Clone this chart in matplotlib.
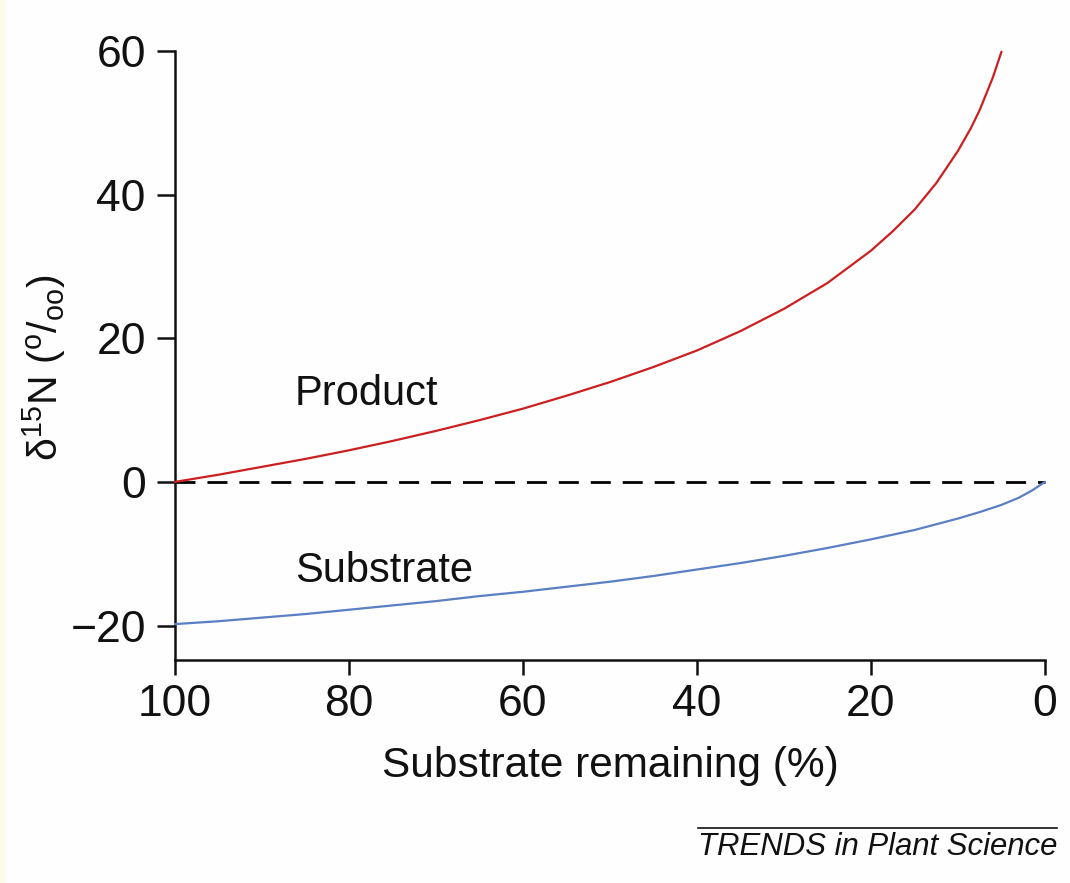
import matplotlib
matplotlib.use("Agg")
import matplotlib.pyplot as plt
from matplotlib.patches import Rectangle
from matplotlib.lines import Line2D

# ---- data ----
remaining_product = [100, 95, 90, 85, 80, 75, 70, 65, 60, 55, 50, 45, 40, 35, 30,
                     25, 20, 17.5, 15, 12.5, 10, 8.5, 7.5, 6, 5]
delta_product = [0.0, 1.0, 2.1, 3.2, 4.4, 5.7, 7.1, 8.6, 10.2, 12.0, 13.9, 16.0, 18.3,
                 21.0, 24.1, 27.7, 32.2, 34.9, 37.9, 41.6, 46.1, 49.3, 51.8, 56.3, 59.9]

remaining_substrate = [100, 95, 90, 85, 80, 75, 70, 65, 60, 55, 50, 45, 40, 35, 30,
                       25, 20, 15, 10, 7.5, 5, 3, 1.5, 0]
delta_substrate = [-19.8, -19.4, -18.9, -18.4, -17.8, -17.2, -16.6, -15.9, -15.3, -14.6,
                   -13.9, -13.1, -12.2, -11.3, -10.3, -9.2, -8.0, -6.7, -5.1, -4.2,
                   -3.2, -2.2, -1.2, 0.0]

baseline_x = [100, 0]
baseline_y = [0, 0]

x_ticks = [100, 80, 60, 40, 20, 0]
y_ticks = [-20, 0, 20, 40, 60]

series_labels = ["Product", "Substrate"]
x_label = "Substrate remaining (%)"
y_label = "\u03b4$^{15}$N ($^{\\rm o}$/$_{\\rm oo}$)"
footer = "TRENDS in Plant Science"

# ---- styling ----
plt.rcParams["font.family"] = ["Liberation Sans", "DejaVu Sans"]
plt.rcParams["mathtext.fontset"] = "custom"
plt.rcParams["mathtext.rm"] = "Liberation Sans"
plt.rcParams["mathtext.it"] = "Liberation Sans:italic"
plt.rcParams["mathtext.sf"] = "Liberation Sans"

W, H = 1070, 883
fig = plt.figure(figsize=(W / 100, H / 100), dpi=100, facecolor="#fefefe")
fig.add_artist(Rectangle((0, 0), 5 / W, 1, transform=fig.transFigure,
                         facecolor="#fbfbe8", edgecolor="none"))

ax = fig.add_axes([175 / W, 1 - 660 / H, (1045 - 175) / W, (660 - 51) / H])
ax.set_facecolor("none")

ax.plot(remaining_product, delta_product, color="#cc1f1f", lw=1.6,
        clip_on=False, solid_capstyle="round", solid_joinstyle="round", zorder=3)
ax.plot(remaining_substrate, delta_substrate, color="#5a7fc2", lw=1.6,
        clip_on=False, solid_capstyle="round", solid_joinstyle="round", zorder=3)
ax.plot(baseline_x, baseline_y, color="black", lw=2.0, dashes=(7.2, 4.3),
        clip_on=False, zorder=2)

ax.set_xlim(100, 0)
ax.set_ylim(-24.8, 60)
ax.set_xticks(x_ticks)
ax.set_yticks(y_ticks)
ax.set_xticklabels([str(v) for v in x_ticks])
ax.set_yticklabels([str(v).replace("-", "\u2212") for v in y_ticks])

for s in ["top", "right"]:
    ax.spines[s].set_visible(False)
for s in ["left", "bottom"]:
    ax.spines[s].set_linewidth(1.8)
    ax.spines[s].set_color("#111111")

ax.tick_params(axis="x", direction="out", length=11, width=1.8, pad=6,
               labelsize=32, colors="#111111")
ax.tick_params(axis="y", direction="out", length=13, width=1.8, pad=8,
               labelsize=32, colors="#111111")

ax.set_xlabel(x_label, fontsize=30.5, color="#111111")
ax.xaxis.set_label_coords(0.5, (660 - 746) / 609)
ax.set_ylabel(y_label, fontsize=29.5, color="#111111")
ax.yaxis.set_label_coords((68 - 175) / 870, (660 - 368) / 609)

ax.text(86.2, 12.2, series_labels[0], fontsize=30, ha="left", va="center",
        color="#111111")
ax.text(86.2, -12.4, series_labels[1], fontsize=30, ha="left", va="center",
        color="#111111")

fig.add_artist(Line2D([698 / W, 1057 / W], [1 - 828 / H, 1 - 828 / H],
                      transform=fig.transFigure, color="#111111", lw=1.2))
fig.text(1057 / W, 1 - 847 / H, footer, fontsize=22.4, style="italic",
         ha="right", va="center", color="#111111")

fig.savefig("out.png", dpi=100, facecolor=fig.get_facecolor())
